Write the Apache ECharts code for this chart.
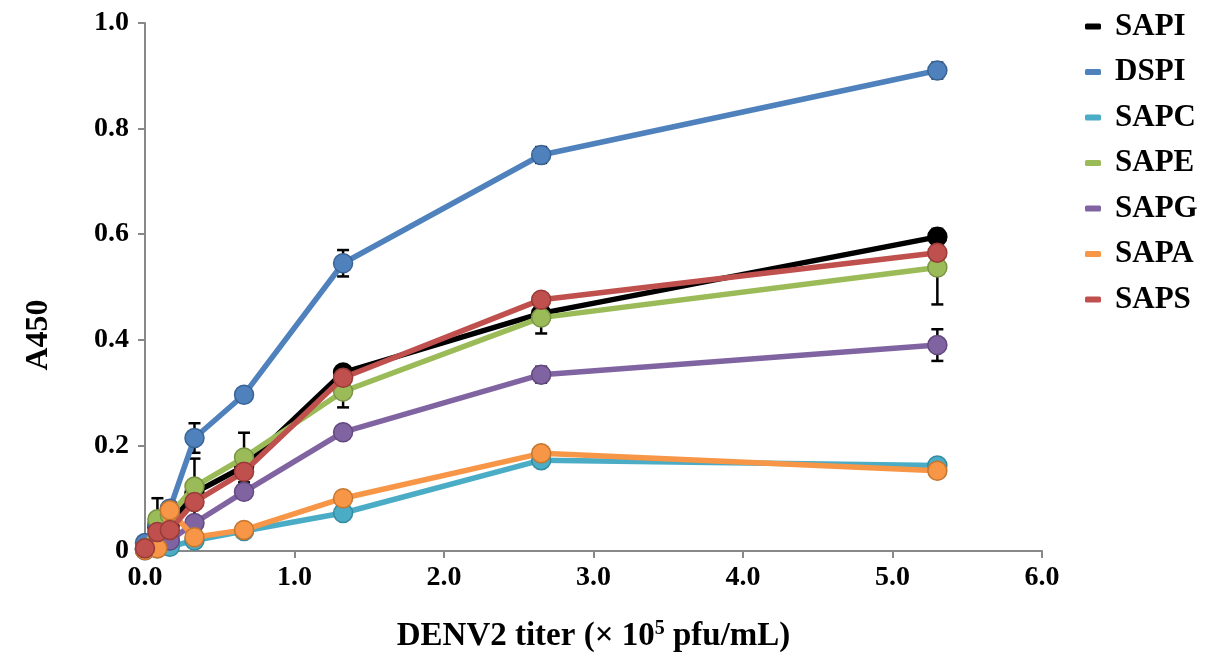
<!DOCTYPE html>
<html>
<head>
<meta charset="utf-8">
<script src="https://cdn.jsdelivr.net/npm/echarts@6/dist/echarts.min.js"></script>
<style>
	html, body { margin: 0; padding: 0; background: #fff; }
	#chart { width: 1225px; height: 661px; }
</style>
</head>
<body>
<div id="chart"></div>
<script>
// DENV2 titer (x 10^5 pfu/mL)
var titers = [0, 0.083, 0.166, 0.331, 0.6625, 1.325, 2.65, 5.3];

var seriesNames = ['SAPI', 'DSPI', 'SAPC', 'SAPE', 'SAPG', 'SAPA', 'SAPS'];

// A450 means
var sapi = [0.005, 0.045, 0.05, 0.11, 0.16, 0.338, 0.45, 0.595];
var dspi = [0.015, 0.05, 0.08, 0.214, 0.296, 0.545, 0.75, 0.91];
var sapc = [0.002, 0.005, 0.008, 0.02, 0.038, 0.072, 0.172, 0.162];
var sape = [0.005, 0.06, 0.068, 0.122, 0.177, 0.302, 0.442, 0.537];
var sapg = [0.002, 0.01, 0.02, 0.053, 0.112, 0.225, 0.334, 0.39];
var sapa = [0.002, 0.005, 0.077, 0.026, 0.04, 0.1, 0.185, 0.152];
var saps = [0.005, 0.036, 0.04, 0.093, 0.15, 0.328, 0.476, 0.565];

// error bar half-widths
var sapiErr = [0.02, 0.055, 0.01, 0.065, 0.01, 0.012, 0.01, 0.015];
var dspiErr = [0.01, 0.01, 0.01, 0.028, 0.01, 0.025, 0.015, 0.015];
var sapcErr = [0.005, 0.005, 0.005, 0.005, 0.005, 0.008, 0.01, 0.01];
var sapeErr = [0.005, 0.01, 0.01, 0.01, 0.047, 0.03, 0.03, 0.07];
var sapgErr = [0.005, 0.005, 0.005, 0.01, 0.01, 0.01, 0.015, 0.03];
var sapaErr = [0.005, 0.005, 0.01, 0.01, 0.005, 0.012, 0.01, 0.01];
var sapsErr = [0.005, 0.01, 0.01, 0.01, 0.01, 0.01, 0.01, 0.01];

var means = [sapi, dspi, sapc, sape, sapg, sapa, saps];
var errs = [sapiErr, dspiErr, sapcErr, sapeErr, sapgErr, sapaErr, sapsErr];
var colors = ['#000000', '#4F81BD', '#4BACC6', '#9BBB59', '#8064A2', '#F79646', '#C0504D'];
var borders = ['#000000', '#3A6395', '#358BA1', '#789443', '#62497F', '#C5772F', '#983B39'];

var fontFam = '"Liberation Serif", "Times New Roman", serif';

function errRender(params, api) {
	var x = api.value(0);
	var lo = api.coord([x, api.value(1)]);
	var hi = api.coord([x, api.value(2)]);
	var cap = 6;
	var st = { stroke: '#000', lineWidth: 2.5 };
	return {
		type: 'group',
		children: [
			{ type: 'line', shape: { x1: lo[0], y1: lo[1], x2: hi[0], y2: hi[1] }, style: st },
			{ type: 'line', shape: { x1: lo[0] - cap, y1: lo[1], x2: lo[0] + cap, y2: lo[1] }, style: st },
			{ type: 'line', shape: { x1: hi[0] - cap, y1: hi[1], x2: hi[0] + cap, y2: hi[1] }, style: st }
		]
	};
}

var series = [];
for (var i = 0; i < seriesNames.length; i++) {
	var errData = [];
	var lineData = [];
	for (var j = 0; j < titers.length; j++) {
		lineData.push([titers[j], means[i][j]]);
		errData.push([titers[j], Math.max(0, means[i][j] - errs[i][j]), means[i][j] + errs[i][j]]);
	}
	series.push({
		name: seriesNames[i] + ' err',
		type: 'custom',
		renderItem: errRender,
		data: errData,
		z: 2 + i * 2,
		silent: true
	});
	series.push({
		name: seriesNames[i],
		type: 'line',
		data: lineData,
		symbol: 'circle',
		symbolSize: 19,
		clip: false,
		z: 3 + i * 2,
		lineStyle: { width: 5.5, color: colors[i] },
		itemStyle: { color: colors[i], borderColor: borders[i], borderWidth: 1.5 },
		emphasis: { disabled: true }
	});
}

var option = {
	backgroundColor: '#fff',
	animation: false,
	grid: {
		left: 145,
		right: 183,
		top: 23,
		bottom: 110
	},
	legend: {
		data: seriesNames,
		orient: 'vertical',
		left: 1080,
		top: 6,
		icon: 'roundRect',
		itemWidth: 16,
		itemHeight: 6,
		itemGap: 14.5,
		itemStyle: { borderWidth: 0 },
		textStyle: {
			fontFamily: fontFam,
			fontWeight: 'bold',
			fontSize: 31,
			color: '#000',
			padding: [0, 0, 0, 9]
		}
	},
	xAxis: {
		type: 'value',
		min: 0,
		max: 6,
		interval: 1,
		name: 'DENV2 titer (\u00D7 10{sup|5} pfu/mL)',
		nameLocation: 'middle',
		nameGap: 68,
		nameTextStyle: {
			fontFamily: fontFam,
			fontWeight: 'bold',
			fontSize: 33,
			color: '#000',
			rich: {
				sup: {
					fontFamily: fontFam,
					fontWeight: 'bold',
					fontSize: 20,
					color: '#000',
					verticalAlign: 'top',
					padding: [0, 0, 14, 0]
				}
			}
		},
		axisLine: { lineStyle: { color: '#888', width: 2 } },
		axisTick: { show: true, length: 7, lineStyle: { color: '#888', width: 2 } },
		splitLine: { show: false },
		axisLabel: {
			margin: 13,
			fontFamily: fontFam,
			fontWeight: 'bold',
			fontSize: 28,
			color: '#000',
			formatter: function (v) { return v.toFixed(1); }
		}
	},
	yAxis: {
		type: 'value',
		min: 0,
		max: 1,
		interval: 0.2,
		name: 'A450',
		nameLocation: 'middle',
		nameGap: 90,
		nameRotate: 90,
		nameTextStyle: {
			fontFamily: fontFam,
			fontWeight: 'bold',
			fontSize: 32,
			color: '#000',
			padding: [0, 96, 0, 0]
		},
		axisLine: { show: true, lineStyle: { color: '#888', width: 2 } },
		axisTick: { show: true, length: 7, lineStyle: { color: '#888', width: 2 } },
		splitLine: { show: false },
		axisLabel: {
			margin: 16,
			fontFamily: fontFam,
			fontWeight: 'bold',
			fontSize: 28,
			color: '#000',
			formatter: function (v) { return v === 0 ? '0' : v.toFixed(1); }
		}
	},
	series: series
};

var chart = echarts.init(document.getElementById('chart'));
chart.setOption(option);
</script>
</body>
</html>
